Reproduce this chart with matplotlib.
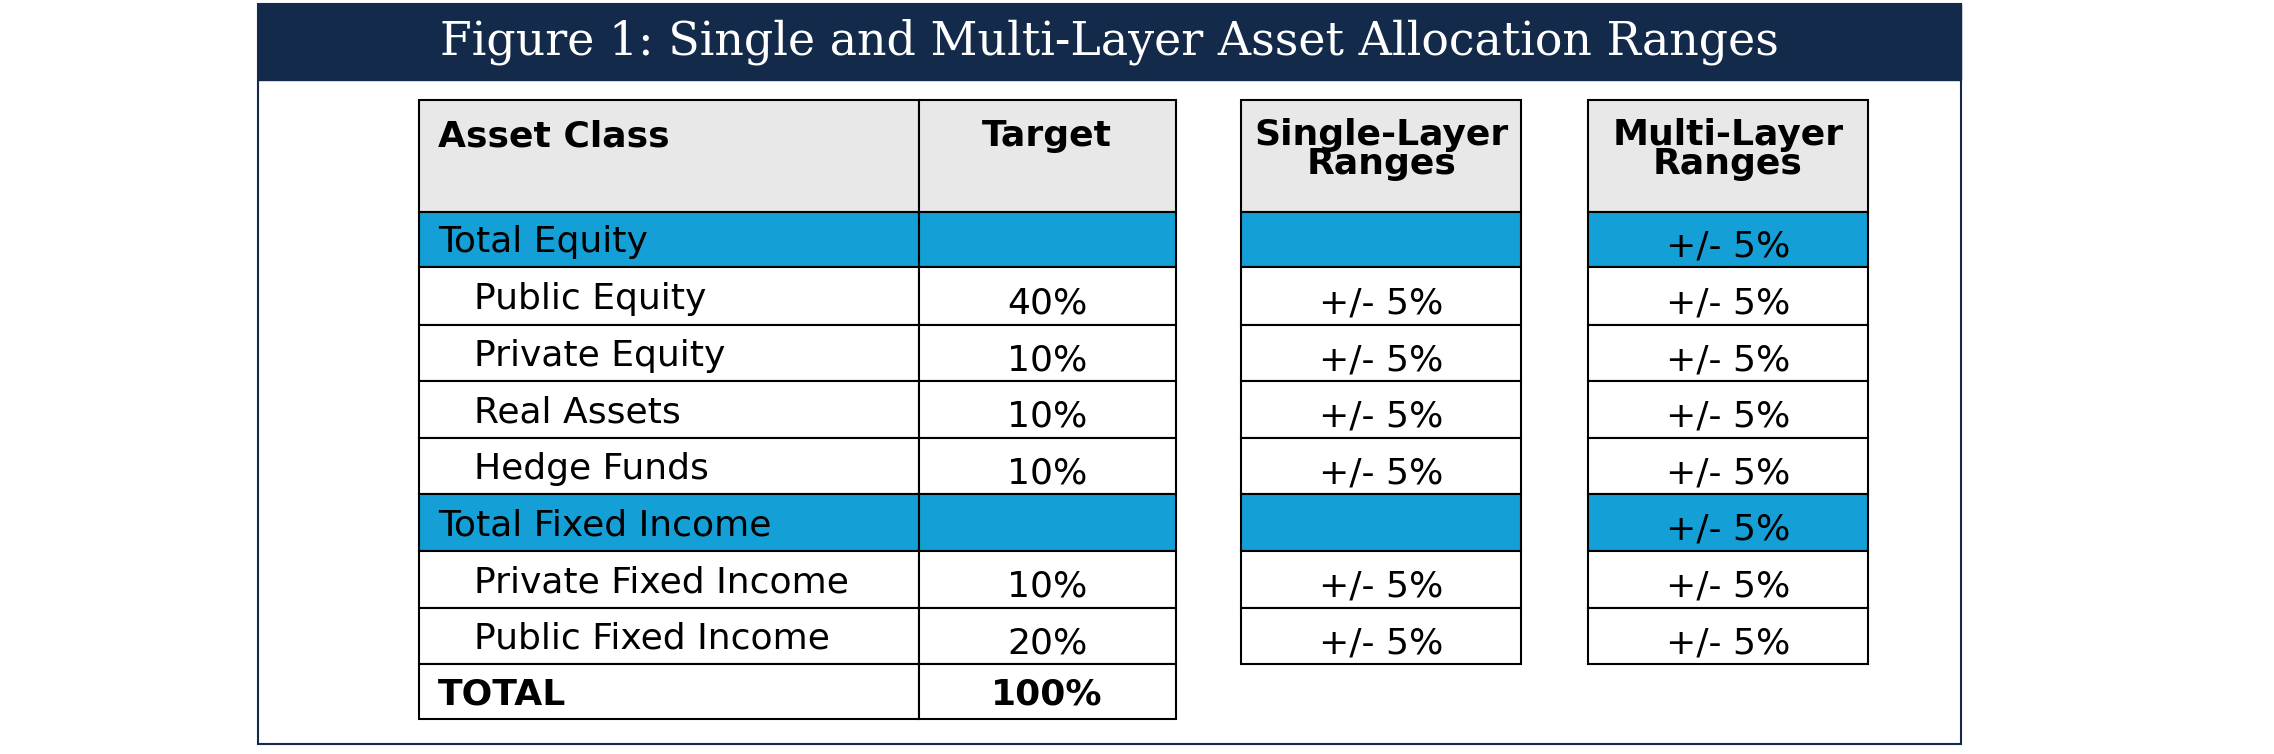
import matplotlib.pyplot as plt
from matplotlib.patches import Rectangle

TITLE = "Figure 1: Single and Multi-Layer Asset Allocation Ranges"
asset_classes = ["Total Equity", "Public Equity", "Private Equity", "Real Assets", "Hedge Funds",
                 "Total Fixed Income", "Private Fixed Income", "Public Fixed Income"]
is_total = [True, False, False, False, False, True, False, False]
targets = ["", "40%", "10%", "10%", "10%", "", "10%", "20%"]
single_layer = ["", "+/- 5%", "+/- 5%", "+/- 5%", "+/- 5%", "", "+/- 5%", "+/- 5%"]
multi_layer = ["+/- 5%"] * 8
total_label, total_value = "TOTAL", "100%"

NAVY = "#132a4a"
BLUE = "#149fd6"
GREY = "#e8e8e8"

# layout measured on a 1568 x 520 grid
W, H = 1568, 520
row_y = [146, 184, 224, 263, 302, 341, 380, 419, 458, 496]
head_top = 69

fig = plt.figure(figsize=(22.74, 7.54), dpi=100)
ax = fig.add_axes([0, 0, 1, 1])
ax.set_xlim(0, W)
ax.set_ylim(H, 0)
ax.axis("off")

# frame and title band
ax.add_patch(Rectangle((178, 3), 1174, 510, facecolor="white", edgecolor=NAVY, lw=1.5))
ax.add_patch(Rectangle((178, 3), 1174, 52, facecolor=NAVY, edgecolor=NAVY))
ax.text(765, 29, TITLE, color="white", fontsize=33, family="DejaVu Serif",
        ha="center", va="center")

fs = 26


def cell(x0, x1, y0, y1, color):
    ax.add_patch(Rectangle((x0, y0), x1 - x0, y1 - y0, facecolor=color,
                           edgecolor="black", lw=1.5))


def table(cols, nrows):
    # cols: list of x edges
    for i in range(len(cols) - 1):
        cell(cols[i], cols[i + 1], head_top, row_y[0], GREY)
        for r in range(nrows):
            c = BLUE if is_total[r] else "white"
            cell(cols[i], cols[i + 1], row_y[r], row_y[r + 1], c)


# main table
c1 = [289, 634, 811]
table(c1, 8)
cell(c1[0], c1[1], row_y[8], row_y[9], "white")
cell(c1[1], c1[2], row_y[8], row_y[9], "white")
ax.text(302, 94, "Asset Class", fontsize=fs, weight="bold", va="center")
ax.text(722, 94, "Target", fontsize=fs, weight="bold", va="center", ha="center")
for r, name in enumerate(asset_classes):
    yc = (row_y[r] + row_y[r + 1]) / 2 + 2
    x = 302 if is_total[r] else 327
    ax.text(x, yc, name, fontsize=fs, va="center")
    ax.text(722, yc + 3, targets[r], fontsize=fs, va="center", ha="center")
yc = (row_y[8] + row_y[9]) / 2 + 2
ax.text(302, yc, total_label, fontsize=fs, weight="bold", va="center")
ax.text(722, yc, total_value, fontsize=fs, weight="bold", va="center", ha="center")

# range tables
for (x0, x1), head, vals in [((856, 1049), "Single-Layer\nRanges", single_layer),
                             ((1095, 1288), "Multi-Layer\nRanges", multi_layer)]:
    table([x0, x1], 8)
    xc = (x0 + x1) / 2
    ax.text(xc, 103, head, fontsize=fs, weight="bold", va="center", ha="center",
            linespacing=0.8)
    for r, v in enumerate(vals):
        yc = (row_y[r] + row_y[r + 1]) / 2 + 5
        ax.text(xc, yc, v, fontsize=fs, va="center", ha="center")

fig.savefig("out.png", dpi=100)
